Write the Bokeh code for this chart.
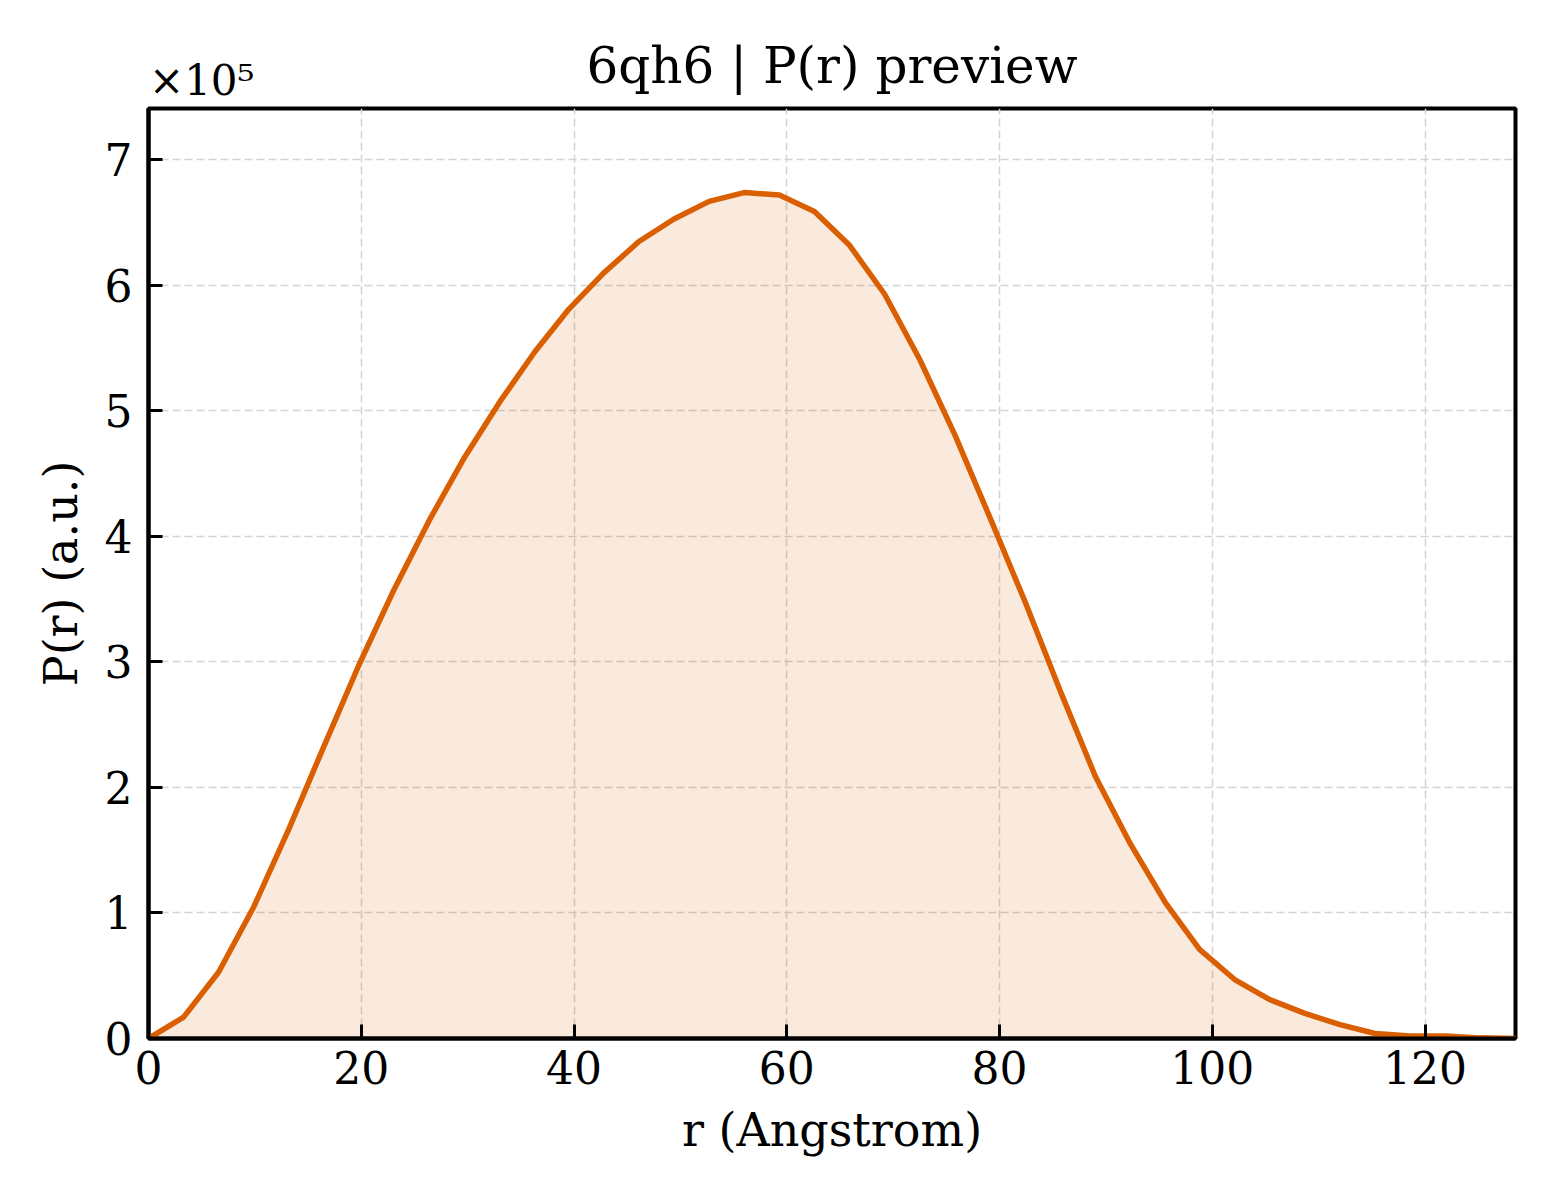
from bokeh.plotting import figure
from bokeh.models import LinearAxis, FixedTicker
from bokeh.embed import file_html
from bokeh.resources import INLINE

# distance r (Angstrom) and P(r) in units of 1e5
r = [0.0, 3.3, 6.6, 9.9, 13.2, 16.5, 19.8, 23.1, 26.4, 29.7,
     33.0, 36.3, 39.5, 42.8, 46.1, 49.4, 52.7, 56.0, 59.3, 62.6,
     65.9, 69.2, 72.5, 75.8, 79.1, 82.4, 85.7, 89.0, 92.3, 95.6,
     98.8, 102.1, 105.4, 108.7, 112.0, 115.3, 118.6, 121.9, 125.2, 128.5]
pr = [0.0, 0.17, 0.53, 1.05, 1.67, 2.33, 2.98, 3.58, 4.13, 4.63,
      5.07, 5.47, 5.81, 6.10, 6.35, 6.53, 6.67, 6.74, 6.72, 6.59,
      6.32, 5.93, 5.41, 4.81, 4.15, 3.48, 2.77, 2.09, 1.55, 1.08,
      0.71, 0.47, 0.31, 0.20, 0.11, 0.04, 0.02, 0.02, 0.005, 0.0]
x_ticks = [0, 20, 40, 60, 80, 100, 120]
y_ticks = [0, 1, 2, 3, 4, 5, 6, 7]

FONT = "DejaVu Serif"
ORANGE = "#d95f02"

p = figure(frame_width=1367, frame_height=930,
           min_border_left=148, min_border_right=29,
           min_border_top=108, min_border_bottom=146,
           x_range=(0, 128.5), y_range=(0, 7.41),
           output_backend="svg", toolbar_location=None)

p.outline_line_color = "black"
p.outline_line_width = 4
p.outline_line_alpha = 1.0

# filled area under the curve, then the curve itself
p.varea(x=r, y1=0, y2=pr, fill_color=ORANGE, fill_alpha=0.13)
p.line(r, pr, line_color=ORANGE, line_width=5.5)

p.xaxis.ticker = FixedTicker(ticks=x_ticks)
p.yaxis.ticker = FixedTicker(ticks=y_ticks)
p.xaxis.axis_label = "r (Angstrom)"
p.yaxis.axis_label = "P(r) (a.u.)"

for ax in (p.xaxis, p.yaxis):
    ax.axis_label_text_font = FONT
    ax.axis_label_text_font_size = "46px"
    ax.axis_label_text_font_style = "normal"
    ax.axis_label_text_color = "black"
    ax.major_label_text_font = FONT
    ax.major_label_text_font_size = "44px"
    ax.major_label_text_color = "black"
    ax.major_tick_in = 14
    ax.major_tick_out = 0
    ax.major_tick_line_width = 3
    ax.major_tick_line_color = "black"
    ax.minor_tick_line_color = None
    ax.axis_line_width = 4
    ax.axis_line_color = "black"

p.xaxis.major_label_standoff = 12
p.yaxis.major_label_standoff = 16
p.xaxis.axis_label_standoff = 16
p.yaxis.axis_label_standoff = 14

p.grid.grid_line_color = "#d3d3d3"
p.grid.grid_line_dash = "8 4"
p.grid.grid_line_width = 1.5

# top strip: y offset text "×10⁵" near the left corner and the centred title
top = LinearAxis(ticker=FixedTicker(ticks=[5]),
                 major_label_overrides={5: "×10⁵"},
                 axis_label="6qh6 | P(r) preview")
top.axis_line_color = None
top.major_tick_line_color = None
top.minor_tick_line_color = None
top.major_tick_in = 0
top.major_tick_out = 0
top.major_label_standoff = 4
top.major_label_text_font = FONT
top.major_label_text_font_size = "42px"
top.major_label_text_color = "black"
top.axis_label_text_font = FONT
top.axis_label_text_font_size = "50px"
top.axis_label_text_font_style = "normal"
top.axis_label_text_color = "black"
top.axis_label_standoff = -42
p.add_layout(top, "above")

open("out.html", "w").write(file_html(p, INLINE))
